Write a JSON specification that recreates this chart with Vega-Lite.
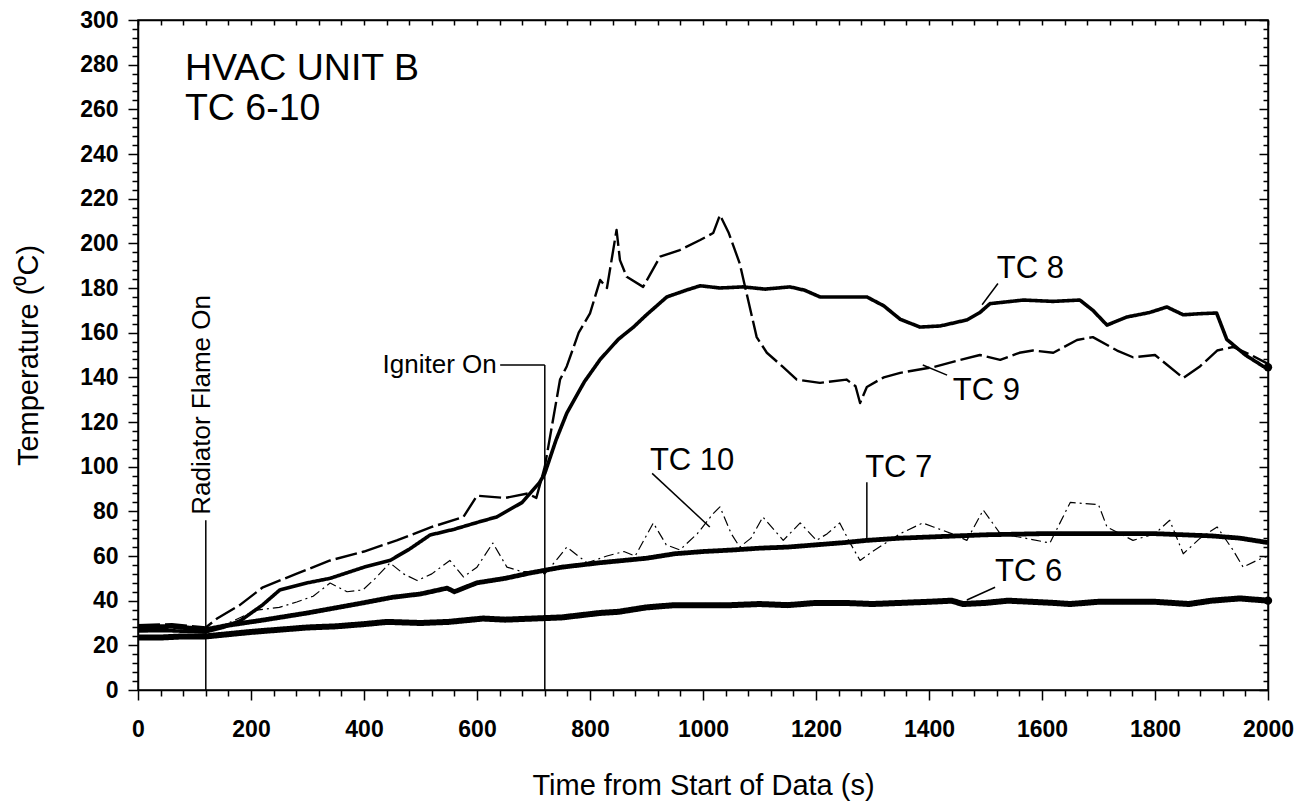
{
"$schema": "https://vega.github.io/schema/vega-lite/v6.json",
"width": 1130, "height": 670,
"autosize": {"type": "none"},
"padding": {"left": 138, "top": 20, "right": 39, "bottom": 116},
"background": "white",
"config": {
  "view": {"stroke": "black", "strokeWidth": 1.5},
  "font": "Liberation Sans",
  "axis": {"domainColor": "black", "domainWidth": 1.5, "grid": false, "labelColor": "black", "titleColor": "black", "labelFont": "Liberation Sans", "titleFont": "Liberation Sans", "labelFontWeight": "bold", "titleFontWeight": "normal", "labelOverlap": false, "ticks": true}
},
"datasets": {
  "tc": [
    {"s":"TC 6","t":0,"v":23.5},{"s":"TC 6","t":40,"v":23.5},{"s":"TC 6","t":80,"v":24},{"s":"TC 6","t":120,"v":24},{"s":"TC 6","t":160,"v":25},{"s":"TC 6","t":200,"v":26},{"s":"TC 6","t":250,"v":27},{"s":"TC 6","t":300,"v":28},{"s":"TC 6","t":350,"v":28.5},{"s":"TC 6","t":400,"v":29.5},{"s":"TC 6","t":441,"v":30.5},{"s":"TC 6","t":500,"v":30},{"s":"TC 6","t":550,"v":30.5},{"s":"TC 6","t":611,"v":32},{"s":"TC 6","t":650,"v":31.5},{"s":"TC 6","t":700,"v":32},{"s":"TC 6","t":750,"v":32.5},{"s":"TC 6","t":818,"v":34.5},{"s":"TC 6","t":850,"v":35},{"s":"TC 6","t":900,"v":37},{"s":"TC 6","t":950,"v":38},{"s":"TC 6","t":1000,"v":38},{"s":"TC 6","t":1050,"v":38},{"s":"TC 6","t":1100,"v":38.5},{"s":"TC 6","t":1150,"v":38},{"s":"TC 6","t":1200,"v":39},{"s":"TC 6","t":1250,"v":39},{"s":"TC 6","t":1300,"v":38.5},{"s":"TC 6","t":1350,"v":39},{"s":"TC 6","t":1400,"v":39.5},{"s":"TC 6","t":1440,"v":40},{"s":"TC 6","t":1460,"v":38.5},{"s":"TC 6","t":1500,"v":39},{"s":"TC 6","t":1540,"v":40},{"s":"TC 6","t":1580,"v":39.5},{"s":"TC 6","t":1620,"v":39},{"s":"TC 6","t":1650,"v":38.5},{"s":"TC 6","t":1700,"v":39.5},{"s":"TC 6","t":1750,"v":39.5},{"s":"TC 6","t":1800,"v":39.5},{"s":"TC 6","t":1860,"v":38.5},{"s":"TC 6","t":1900,"v":40},{"s":"TC 6","t":1950,"v":41},{"s":"TC 6","t":2000,"v":40},

    {"s":"TC 7","t":0,"v":28},{"s":"TC 7","t":60,"v":28.5},{"s":"TC 7","t":120,"v":27},{"s":"TC 7","t":160,"v":29},{"s":"TC 7","t":221,"v":31.3},{"s":"TC 7","t":300,"v":34.5},{"s":"TC 7","t":398,"v":39},{"s":"TC 7","t":450,"v":41.5},{"s":"TC 7","t":500,"v":43},{"s":"TC 7","t":547,"v":45.6},{"s":"TC 7","t":560,"v":44},{"s":"TC 7","t":600,"v":48},{"s":"TC 7","t":650,"v":50},{"s":"TC 7","t":694,"v":52.4},{"s":"TC 7","t":750,"v":55},{"s":"TC 7","t":818,"v":57},{"s":"TC 7","t":900,"v":59},{"s":"TC 7","t":950,"v":61},{"s":"TC 7","t":1000,"v":62},{"s":"TC 7","t":1053,"v":62.7},{"s":"TC 7","t":1100,"v":63.5},{"s":"TC 7","t":1150,"v":64},{"s":"TC 7","t":1200,"v":65},{"s":"TC 7","t":1250,"v":66},{"s":"TC 7","t":1290,"v":67},{"s":"TC 7","t":1350,"v":68},{"s":"TC 7","t":1400,"v":68.5},{"s":"TC 7","t":1450,"v":69},{"s":"TC 7","t":1500,"v":69.5},{"s":"TC 7","t":1600,"v":70},{"s":"TC 7","t":1700,"v":70},{"s":"TC 7","t":1800,"v":70},{"s":"TC 7","t":1850,"v":69.5},{"s":"TC 7","t":1900,"v":69},{"s":"TC 7","t":1950,"v":68},{"s":"TC 7","t":2000,"v":66},

    {"s":"TC 8","t":0,"v":26.5},{"s":"TC 8","t":60,"v":26.5},{"s":"TC 8","t":120,"v":26},{"s":"TC 8","t":150,"v":28},{"s":"TC 8","t":181,"v":31},{"s":"TC 8","t":220,"v":38},{"s":"TC 8","t":251,"v":44.8},{"s":"TC 8","t":300,"v":48},{"s":"TC 8","t":340,"v":50},{"s":"TC 8","t":400,"v":55},{"s":"TC 8","t":446,"v":58},{"s":"TC 8","t":480,"v":63},{"s":"TC 8","t":517,"v":69.4},{"s":"TC 8","t":560,"v":72},{"s":"TC 8","t":600,"v":75},{"s":"TC 8","t":635,"v":77.5},{"s":"TC 8","t":680,"v":84},{"s":"TC 8","t":711,"v":93},{"s":"TC 8","t":720,"v":97},{"s":"TC 8","t":740,"v":112},{"s":"TC 8","t":759,"v":124},{"s":"TC 8","t":790,"v":138},{"s":"TC 8","t":818,"v":148},{"s":"TC 8","t":850,"v":157},{"s":"TC 8","t":877,"v":162.5},{"s":"TC 8","t":900,"v":168},{"s":"TC 8","t":936,"v":176},{"s":"TC 8","t":970,"v":179},{"s":"TC 8","t":995,"v":181},{"s":"TC 8","t":1030,"v":180},{"s":"TC 8","t":1071,"v":180.5},{"s":"TC 8","t":1110,"v":179.5},{"s":"TC 8","t":1154,"v":180.5},{"s":"TC 8","t":1180,"v":179},{"s":"TC 8","t":1207,"v":176},{"s":"TC 8","t":1250,"v":176},{"s":"TC 8","t":1290,"v":176},{"s":"TC 8","t":1320,"v":172},{"s":"TC 8","t":1349,"v":166},{"s":"TC 8","t":1384,"v":162.5},{"s":"TC 8","t":1420,"v":163},{"s":"TC 8","t":1467,"v":165.7},{"s":"TC 8","t":1490,"v":169},{"s":"TC 8","t":1508,"v":173},{"s":"TC 8","t":1567,"v":174.6},{"s":"TC 8","t":1620,"v":174},{"s":"TC 8","t":1667,"v":174.6},{"s":"TC 8","t":1690,"v":170},{"s":"TC 8","t":1715,"v":163.4},{"s":"TC 8","t":1750,"v":167},{"s":"TC 8","t":1790,"v":169},{"s":"TC 8","t":1821,"v":171.5},{"s":"TC 8","t":1850,"v":168},{"s":"TC 8","t":1880,"v":168.5},{"s":"TC 8","t":1909,"v":168.8},{"s":"TC 8","t":1927,"v":157},{"s":"TC 8","t":1960,"v":150},{"s":"TC 8","t":1991,"v":145},{"s":"TC 8","t":2000,"v":144.5},

    {"s":"TC 9","t":0,"v":29},{"s":"TC 9","t":60,"v":29.5},{"s":"TC 9","t":120,"v":28},{"s":"TC 9","t":140,"v":32},{"s":"TC 9","t":180,"v":38},{"s":"TC 9","t":221,"v":46},{"s":"TC 9","t":280,"v":52},{"s":"TC 9","t":340,"v":58},{"s":"TC 9","t":400,"v":62},{"s":"TC 9","t":458,"v":67},{"s":"TC 9","t":520,"v":73},{"s":"TC 9","t":576,"v":77.5},{"s":"TC 9","t":600,"v":87},{"s":"TC 9","t":650,"v":86},{"s":"TC 9","t":690,"v":88},{"s":"TC 9","t":705,"v":86},{"s":"TC 9","t":720,"v":100},{"s":"TC 9","t":747,"v":139},{"s":"TC 9","t":759,"v":145},{"s":"TC 9","t":780,"v":160},{"s":"TC 9","t":800,"v":168.6},{"s":"TC 9","t":818,"v":183.6},{"s":"TC 9","t":830,"v":180},{"s":"TC 9","t":847,"v":206},{"s":"TC 9","t":853,"v":192.5},{"s":"TC 9","t":865,"v":185},{"s":"TC 9","t":894,"v":180.5},{"s":"TC 9","t":924,"v":194},{"s":"TC 9","t":959,"v":197},{"s":"TC 9","t":995,"v":201.5},{"s":"TC 9","t":1018,"v":204.6},{"s":"TC 9","t":1030,"v":212.7},{"s":"TC 9","t":1045,"v":205},{"s":"TC 9","t":1065,"v":191},{"s":"TC 9","t":1095,"v":158},{"s":"TC 9","t":1113,"v":151},{"s":"TC 9","t":1140,"v":145},{"s":"TC 9","t":1166,"v":139},{"s":"TC 9","t":1207,"v":137.5},{"s":"TC 9","t":1254,"v":139},{"s":"TC 9","t":1270,"v":136},{"s":"TC 9","t":1278,"v":128.5},{"s":"TC 9","t":1290,"v":135.7},{"s":"TC 9","t":1320,"v":140},{"s":"TC 9","t":1349,"v":142},{"s":"TC 9","t":1408,"v":144.6},{"s":"TC 9","t":1455,"v":147.8},{"s":"TC 9","t":1490,"v":150},{"s":"TC 9","t":1526,"v":147.8},{"s":"TC 9","t":1560,"v":151},{"s":"TC 9","t":1584,"v":152},{"s":"TC 9","t":1620,"v":151},{"s":"TC 9","t":1662,"v":156.7},{"s":"TC 9","t":1690,"v":158},{"s":"TC 9","t":1733,"v":152},{"s":"TC 9","t":1761,"v":149},{"s":"TC 9","t":1800,"v":150},{"s":"TC 9","t":1850,"v":139.7},{"s":"TC 9","t":1880,"v":145},{"s":"TC 9","t":1910,"v":152},{"s":"TC 9","t":1938,"v":153.6},{"s":"TC 9","t":1970,"v":150},{"s":"TC 9","t":2000,"v":146},

    {"s":"TC 10","t":0,"v":26},{"s":"TC 10","t":60,"v":26.5},{"s":"TC 10","t":120,"v":25.5},{"s":"TC 10","t":160,"v":30},{"s":"TC 10","t":210,"v":35.8},{"s":"TC 10","t":250,"v":37},{"s":"TC 10","t":281,"v":39.4},{"s":"TC 10","t":310,"v":42},{"s":"TC 10","t":340,"v":47.9},{"s":"TC 10","t":370,"v":44},{"s":"TC 10","t":398,"v":44.8},{"s":"TC 10","t":420,"v":50},{"s":"TC 10","t":446,"v":56.9},{"s":"TC 10","t":470,"v":52},{"s":"TC 10","t":494,"v":49},{"s":"TC 10","t":520,"v":52},{"s":"TC 10","t":552,"v":58},{"s":"TC 10","t":576,"v":50.6},{"s":"TC 10","t":600,"v":55},{"s":"TC 10","t":628,"v":65.8},{"s":"TC 10","t":653,"v":55},{"s":"TC 10","t":680,"v":53},{"s":"TC 10","t":700,"v":53},{"s":"TC 10","t":720,"v":52},{"s":"TC 10","t":740,"v":58},{"s":"TC 10","t":759,"v":64},{"s":"TC 10","t":795,"v":56.9},{"s":"TC 10","t":830,"v":60},{"s":"TC 10","t":860,"v":62},{"s":"TC 10","t":880,"v":60},{"s":"TC 10","t":912,"v":74.8},{"s":"TC 10","t":935,"v":65},{"s":"TC 10","t":959,"v":62.7},{"s":"TC 10","t":990,"v":70},{"s":"TC 10","t":1018,"v":79},{"s":"TC 10","t":1030,"v":82},{"s":"TC 10","t":1050,"v":70},{"s":"TC 10","t":1065,"v":64},{"s":"TC 10","t":1085,"v":68},{"s":"TC 10","t":1106,"v":77.5},{"s":"TC 10","t":1142,"v":67},{"s":"TC 10","t":1172,"v":74.8},{"s":"TC 10","t":1201,"v":67},{"s":"TC 10","t":1220,"v":70},{"s":"TC 10","t":1242,"v":74.8},{"s":"TC 10","t":1260,"v":66},{"s":"TC 10","t":1278,"v":58},{"s":"TC 10","t":1300,"v":62},{"s":"TC 10","t":1349,"v":70},{"s":"TC 10","t":1389,"v":74.8},{"s":"TC 10","t":1408,"v":73},{"s":"TC 10","t":1440,"v":70},{"s":"TC 10","t":1467,"v":67},{"s":"TC 10","t":1496,"v":80.6},{"s":"TC 10","t":1526,"v":70},{"s":"TC 10","t":1570,"v":68},{"s":"TC 10","t":1614,"v":65.8},{"s":"TC 10","t":1650,"v":84},{"s":"TC 10","t":1700,"v":83},{"s":"TC 10","t":1715,"v":73},{"s":"TC 10","t":1761,"v":67},{"s":"TC 10","t":1800,"v":70},{"s":"TC 10","t":1826,"v":76},{"s":"TC 10","t":1850,"v":61},{"s":"TC 10","t":1880,"v":68},{"s":"TC 10","t":1910,"v":73},{"s":"TC 10","t":1938,"v":62.7},{"s":"TC 10","t":1956,"v":55},{"s":"TC 10","t":1980,"v":58},{"s":"TC 10","t":2000,"v":60}
  ],
  "ann": [
    {"x":120,"y":0,"x2":120,"y2":76},
    {"x":720,"y":0,"x2":720,"y2":145.5},
    {"x":641,"y":145.5,"x2":720,"y2":145.5},
    {"x":910,"y":97,"x2":1012,"y2":73},
    {"x":1290,"y":93,"x2":1290,"y2":66.5},
    {"x":1522,"y":182,"x2":1494,"y2":172.5},
    {"x":1389,"y":145.5,"x2":1432,"y2":141},
    {"x":1517,"y":46,"x2":1467,"y2":40.3}
  ],
  "lbl": [
    {"x":906,"y":102.5,"text":"TC 10"},
    {"x":1287,"y":99.4,"text":"TC 7"},
    {"x":1520,"y":188.7,"text":"TC 8"},
    {"x":1442,"y":133.7,"text":"TC 9"},
    {"x":1517,"y":53,"text":"TC 6"}
  ],
  "ttl": [
    {"x":83,"y":273,"text":"HVAC UNIT B"},
    {"x":83,"y":255.2,"text":"TC 6-10"}
  ],
  "ign": [{"x":635,"y":145.5,"text":"Igniter On"}],
  "rad": [{"x":113,"y":78.5,"text":"Radiator Flame On"}]
},
"resolve": {"axis": {"x": "independent", "y": "independent"}},
"layer": [
  {
    "data": {"name": "tc"},
    "mark": {"type": "line", "color": "black", "strokeJoin": "round"},
    "encoding": {
      "x": {"field": "t", "type": "quantitative", "scale": {"domain": [0, 2000], "nice": false},
        "axis": {"orient": "bottom", "title": "Time from Start of Data (s)", "labelFlush": false, "titleFontSize": 29, "titlePadding": 30, "labelFontSize": 23, "labelPadding": 18, "tickSize": 10, "tickColor": "black", "tickWidth": 1.5,
          "values": [0,40,80,120,160,200,240,280,320,360,400,440,480,520,560,600,640,680,720,760,800,840,880,920,960,1000,1040,1080,1120,1160,1200,1240,1280,1320,1360,1400,1440,1480,1520,1560,1600,1640,1680,1720,1760,1800,1840,1880,1920,1960,2000],
          "labelExpr": "datum.value % 200 === 0 ? '' + datum.value : ''",
          "tickDash": {"condition": {"test": "datum.value % 200 === 0", "value": [30, 1]}, "value": [6, 30]}}},
      "y": {"field": "v", "type": "quantitative", "scale": {"domain": [0, 300], "nice": false},
        "axis": {"orient": "left", "title": "Temperature (⁰C)", "labelFlush": false, "titleFontSize": 29, "titlePadding": 36, "labelFontSize": 23, "labelPadding": 10, "tickSize": 10, "tickColor": "black", "tickWidth": 1.5,
          "values": [0,4,8,12,16,20,24,28,32,36,40,44,48,52,56,60,64,68,72,76,80,84,88,92,96,100,104,108,112,116,120,124,128,132,136,140,144,148,152,156,160,164,168,172,176,180,184,188,192,196,200,204,208,212,216,220,224,228,232,236,240,244,248,252,256,260,264,268,272,276,280,284,288,292,296,300],
          "labelExpr": "datum.value % 20 === 0 ? '' + datum.value : ''",
          "tickDash": {"condition": {"test": "datum.value % 20 === 0", "value": [30, 1]}, "value": [6, 30]}}},
      "strokeWidth": {"field": "s", "type": "nominal", "legend": null, "scale": {"domain": ["TC 6","TC 7","TC 8","TC 9","TC 10"], "range": [6, 1.2, 6, 1.8, 1.8]}},
      "strokeDash": {"field": "s", "type": "nominal", "legend": null, "scale": {"domain": ["TC 6","TC 7","TC 8","TC 9","TC 10"], "range": [[1,0],[1,0],[1,0],[22,5],[10,4,2,4]]}}
    }
  },
  {
    "data": {"name": "ann"},
    "mark": {"type": "rule", "color": "black", "strokeWidth": 1.5},
    "encoding": {
      "x": {"field": "x", "type": "quantitative",
        "axis": {"orient": "top", "title": null, "labels": false, "tickSize": -5, "tickColor": "black", "tickWidth": 1.5,
          "values": [0,40,80,120,160,200,240,280,320,360,400,440,480,520,560,600,640,680,720,760,800,840,880,920,960,1000,1040,1080,1120,1160,1200,1240,1280,1320,1360,1400,1440,1480,1520,1560,1600,1640,1680,1720,1760,1800,1840,1880,1920,1960,2000]}},
      "y": {"field": "y", "type": "quantitative",
        "axis": {"orient": "right", "title": null, "labels": false, "tickSize": -9, "tickColor": "black", "tickWidth": 1.5,
          "values": [0,4,8,12,16,20,24,28,32,36,40,44,48,52,56,60,64,68,72,76,80,84,88,92,96,100,104,108,112,116,120,124,128,132,136,140,144,148,152,156,160,164,168,172,176,180,184,188,192,196,200,204,208,212,216,220,224,228,232,236,240,244,248,252,256,260,264,268,272,276,280,284,288,292,296,300],
          "tickDash": {"condition": {"test": "datum.value % 20 === 0", "value": [30, 1]}, "value": [5, 30]}}},
      "x2": {"field": "x2"},
      "y2": {"field": "y2"}
    }
  },
  {
    "data": {"name": "tc"},
    "transform": [{"filter": "datum.t === 2000 && (datum.s === 'TC 6' || datum.s === 'TC 8')"}],
    "mark": {"type": "point", "filled": true, "color": "black", "size": 70, "opacity": 1},
    "encoding": {
      "x": {"field": "t", "type": "quantitative", "axis": null},
      "y": {"field": "v", "type": "quantitative", "axis": null}
    }
  },
  {
    "data": {"name": "lbl"},
    "mark": {"type": "text", "align": "left", "baseline": "middle", "fontSize": 31, "font": "Liberation Sans", "color": "black"},
    "encoding": {
      "x": {"field": "x", "type": "quantitative", "axis": null},
      "y": {"field": "y", "type": "quantitative", "axis": null},
      "text": {"field": "text"}
    }
  },
  {
    "data": {"name": "ttl"},
    "mark": {"type": "text", "align": "left", "baseline": "alphabetic", "fontSize": 37.5, "font": "Liberation Sans", "color": "black"},
    "encoding": {
      "x": {"field": "x", "type": "quantitative", "axis": null},
      "y": {"field": "y", "type": "quantitative", "axis": null},
      "text": {"field": "text"}
    }
  },
  {
    "data": {"name": "ign"},
    "mark": {"type": "text", "align": "right", "baseline": "middle", "fontSize": 26, "font": "Liberation Sans", "color": "black"},
    "encoding": {
      "x": {"field": "x", "type": "quantitative", "axis": null},
      "y": {"field": "y", "type": "quantitative", "axis": null},
      "text": {"field": "text"}
    }
  },
  {
    "data": {"name": "rad"},
    "mark": {"type": "text", "align": "left", "baseline": "middle", "angle": 270, "fontSize": 26, "font": "Liberation Sans", "color": "black"},
    "encoding": {
      "x": {"field": "x", "type": "quantitative", "axis": null},
      "y": {"field": "y", "type": "quantitative", "axis": null},
      "text": {"field": "text"}
    }
  }
]
}
